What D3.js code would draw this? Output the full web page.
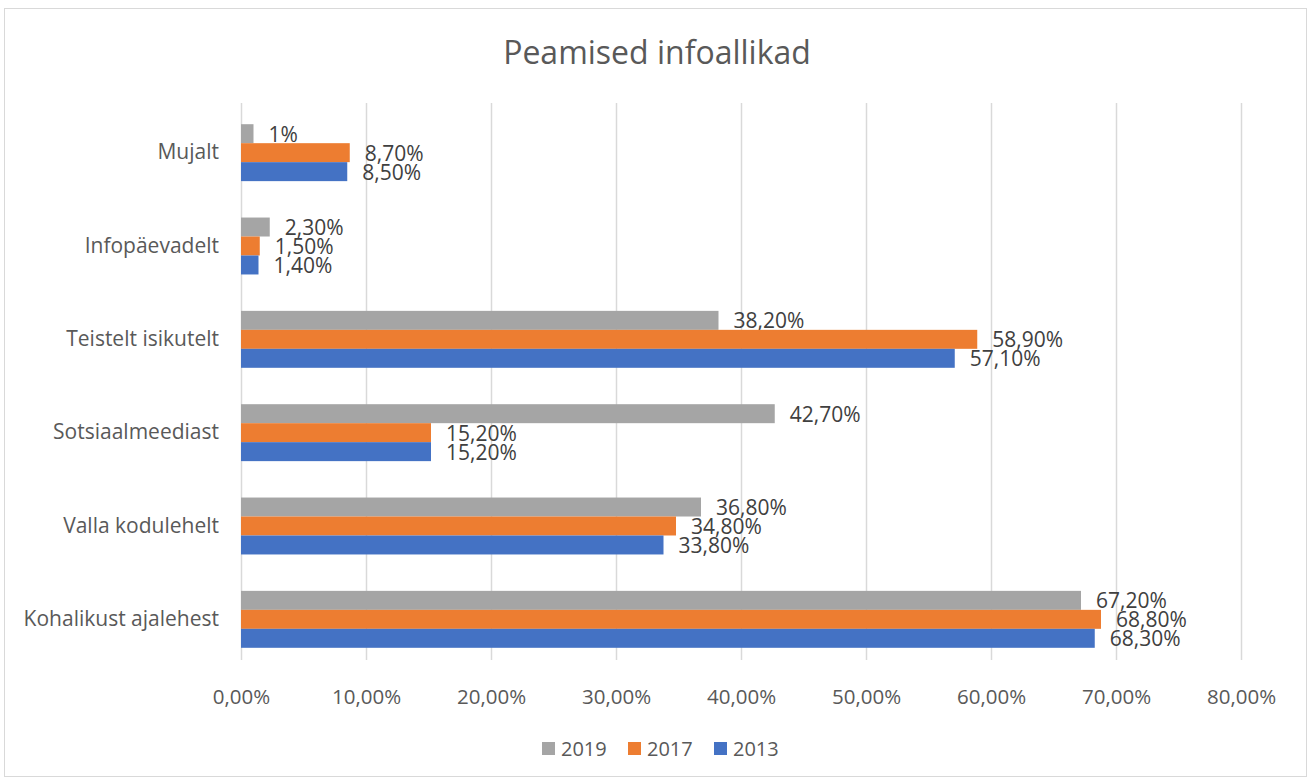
<!DOCTYPE html>
<html>
<head>
<meta charset="utf-8">
<script src="https://cdn.jsdelivr.net/npm/d3@7"></script>
<style>
  body { margin: 0; background: #fff; }
  text { font-family: "Open Sans", Lato, sans-serif; }
</style>
</head>
<body>
<div id="chart"></div>
<script>
// Data
const categories = ['Mujalt', 'Infopäevadelt', 'Teistelt isikutelt', 'Sotsiaalmeediast', 'Valla kodulehelt', 'Kohalikust ajalehest'];
const seriesNames = ['2019', '2017', '2013'];
const values2019 = [1.0, 2.3, 38.2, 42.7, 36.8, 67.2];
const values2017 = [8.7, 1.5, 58.9, 15.2, 34.8, 68.8];
const values2013 = [8.5, 1.4, 57.1, 15.2, 33.8, 68.3];
const labels2019 = ['1%', '2,30%', '38,20%', '42,70%', '36,80%', '67,20%'];
const labels2017 = ['8,70%', '1,50%', '58,90%', '15,20%', '34,80%', '68,80%'];
const labels2013 = ['8,50%', '1,40%', '57,10%', '15,20%', '33,80%', '68,30%'];
const xTicks = [0, 10, 20, 30, 40, 50, 60, 70, 80];

const colors = { '2019': '#a5a5a5', '2017': '#ed7d31', '2013': '#4472c4' };
const seriesValues = { '2019': values2019, '2017': values2017, '2013': values2013 };
const seriesLabels = { '2019': labels2019, '2017': labels2017, '2013': labels2013 };

const W = 1312, H = 780;
const plot = { left: 241, right: 1241, top: 106, bottom: 666 };
const font = '"Open Sans", Lato, sans-serif';

const svg = d3.select('#chart').append('svg')
  .attr('width', W)
  .attr('height', H);

// Outer border
svg.append('rect')
  .attr('x', 4.5).attr('y', 8.5)
  .attr('width', 1302).attr('height', 768)
  .attr('fill', '#fff')
  .attr('stroke', '#d9d9d9')
  .attr('stroke-width', 1);

// Title
svg.append('text')
  .attr('x', 657)
  .attr('y', 64)
  .attr('text-anchor', 'middle')
  .attr('fill', '#595959')
  .attr('font-size', '32px')
  .text('Peamised infoallikad');

// Scales
const x = d3.scaleLinear().domain([0, 80]).range([plot.left, plot.right]);
const y = d3.scaleBand().domain(categories).range([plot.top, plot.bottom]).paddingInner(0.39).paddingOuter(0.195);
const ySub = d3.scaleBand().domain(seriesNames).range([0, y.bandwidth()]);

// Gridlines
svg.append('g')
  .selectAll('line')
  .data(xTicks)
  .join('line')
  .attr('x1', d => Math.round(x(d)) + 0.5)
  .attr('x2', d => Math.round(x(d)) + 0.5)
  .attr('y1', plot.top - 3)
  .attr('y2', plot.bottom - 6)
  .attr('stroke', '#d9d9d9')
  .attr('stroke-width', 1.5);

// X axis tick labels
const xAxis = d3.axisBottom(x)
  .tickValues(xTicks)
  .tickSize(0)
  .tickPadding(0)
  .tickFormat(d => d.toFixed(2).replace('.', ',') + '%');

svg.append('g')
  .attr('transform', `translate(0, ${plot.bottom + 23})`)
  .call(xAxis)
  .call(g => g.select('.domain').remove())
  .selectAll('text')
  .attr('fill', '#595959')
  .attr('font-size', '20.5px')
  .attr('font-family', font);

// Y axis category labels
const yAxis = d3.axisLeft(y).tickSize(0).tickPadding(22);
svg.append('g')
  .attr('transform', `translate(${plot.left}, 0)`)
  .call(yAxis)
  .call(g => g.select('.domain').remove())
  .selectAll('text')
  .attr('fill', '#595959')
  .attr('font-size', '21px')
  .attr('font-family', font);

// Bars and data labels
seriesNames.forEach(name => {
  const vals = seriesValues[name];
  const labs = seriesLabels[name];
  const g = svg.append('g');

  g.selectAll('rect')
    .data(categories)
    .join('rect')
    .attr('x', x(0))
    .attr('y', c => y(c) + ySub(name))
    .attr('width', (c, i) => x(vals[i]) - x(0))
    .attr('height', ySub.bandwidth())
    .attr('fill', colors[name]);

  g.selectAll('text')
    .data(categories)
    .join('text')
    .attr('x', (c, i) => x(vals[i]) + 15)
    .attr('y', c => y(c) + ySub(name) + ySub.bandwidth() / 2 + 8)
    .attr('fill', '#404040')
    .attr('font-size', '21px')
    .text((c, i) => labs[i]);
});

// Legend
const legend = svg.append('g');
seriesNames.forEach((name, i) => {
  const lx = 542 + i * 86;
  legend.append('rect')
    .attr('x', lx)
    .attr('y', 742)
    .attr('width', 13)
    .attr('height', 13)
    .attr('fill', colors[name]);
  legend.append('text')
    .attr('x', lx + 19)
    .attr('y', 756)
    .attr('fill', '#595959')
    .attr('font-size', '20px')
    .text(name);
});
</script>
</body>
</html>
